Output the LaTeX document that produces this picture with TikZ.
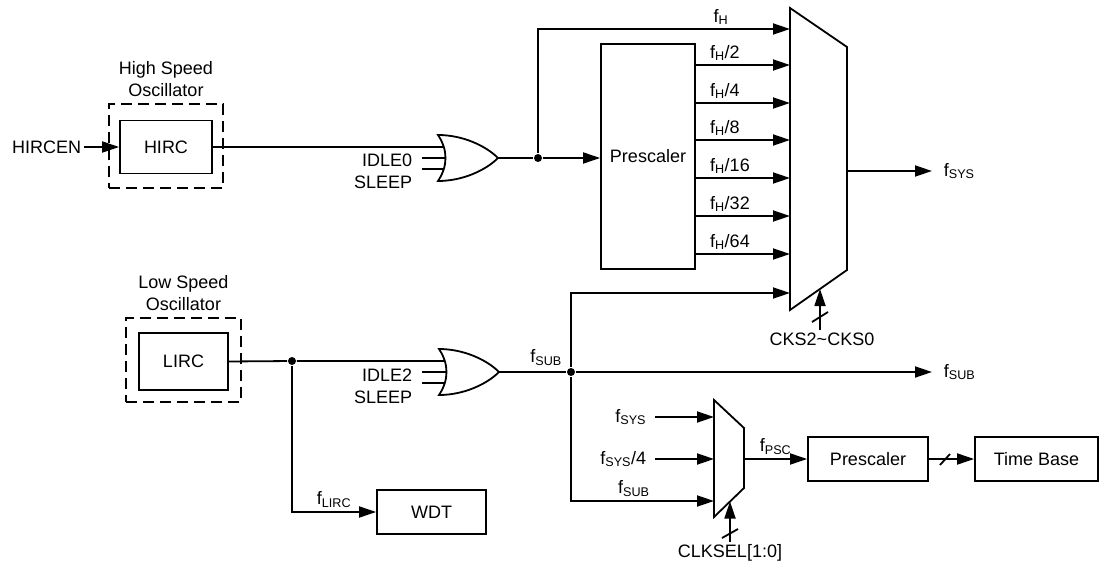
\documentclass[tikz,border=0pt]{standalone}
\usepackage{fontspec}
\setmainfont{Liberation Sans}
\usetikzlibrary{arrows.meta, positioning, calc}

\newcommand{\freq}[1]{f\textsubscript{#1}}

\begin{document}
\begin{tikzpicture}[
  x=1pt, y=-1pt,
  >={Triangle[length=17pt, width=11pt]},
  line width=1.8pt,
  font=\fontsize{18}{22}\selectfont,
  box/.style={draw, inner sep=0pt, align=center},
  osc/.style={draw, dash pattern=on 11pt off 6pt, inner sep=0pt},
  dot/.style={circle, fill, inner sep=0pt, minimum size=8pt},
  sig/.style={inner sep=2pt},
  orgate/.pic={
    \draw (0,-23) .. controls (10,-8) and (10,8) .. (0,23)
          .. controls (25,23) and (48,12) .. (60,0)
          .. controls (48,-12) and (25,-23) .. (0,-23) -- cycle;
    \coordinate (-in1) at (5.5,-11);
    \coordinate (-in2) at (7.5,0);
    \coordinate (-in3) at (5.5,11);
    \coordinate (-out) at (60,0);
  }
]
\useasboundingbox (0,0) rectangle (1101,567);

% High speed oscillator
\node[box, minimum width=92, minimum height=53] (hirc) at (166,147) {HIRC};
\node[osc, minimum width=114, minimum height=84] (hso) at (166,146) {};
\node[align=center, above=2pt of hso] (hsolbl) {High Speed\\Oscillator};
\node[sig, anchor=east] (hircen) at (84,147) {HIRCEN};
\draw[->] (hircen) -- (hirc);

% OR gate for the high speed clock
\pic (or1) at (438,158) {orgate};
\node[sig, anchor=east] (idle0) at (415,160) {IDLE0};
\node[sig, anchor=east] (sleep0) at (415,182) {SLEEP};
\draw (hirc.east) -- (or1-in1);
\draw ([xshift=7pt]idle0.east |- or1-in2) -- (or1-in2);
\draw ([xshift=7pt]sleep0.east |- or1-in3) -- (or1-in3);

% Prescaler and clock select
\node[box, minimum width=94, minimum height=225] (presc1) at (648,156.5) {Prescaler};
\node[dot] (j1) at (538,158) {};
\draw (or1-out) -- (j1);
\draw[->] (j1) -- (presc1.west |- j1);

\coordinate (m1tl) at (790,8);
\coordinate (m1tr) at (847,47);
\coordinate (m1br) at (847,270);
\coordinate (m1bl) at (790,310);
\draw (m1tl) -- (m1tr) -- (m1br) -- (m1bl) -- cycle;
\foreach \y [count=\i] in {29,65,103,140,178,216,254,293}
  \coordinate (m1in\i) at (790,\y);
\coordinate (m1out) at (847,171);

\draw[->] (j1) |- (m1in1) node[pos=0.84, anchor=south west] {\freq{H}};
\foreach \d [count=\i from 2] in {2,4,8,16,32,64}
  \draw[->] (presc1.east |- m1in\i) -- (m1in\i)
    node[pos=0, anchor=south west, xshift=10pt] {\freq{H}/\d};

\node[sig, anchor=west, inner xsep=11pt] (fsys) at (932,171) {\freq{SYS}};
\draw[->] (m1out) -- (fsys.west);

\coordinate (m1sel) at (820,289);
\node[sig, anchor=north] (cks) at (822,330) {CKS2\textasciitilde CKS0};
\draw[->] (cks.north -| m1sel) -- (m1sel);
\draw (812,322) -- (828,312);

% Low speed oscillator
\node[box, minimum width=89, minimum height=57] (lirc) at (183.5,361.5) {LIRC};
\node[osc, minimum width=115, minimum height=84] (lso) at (183.5,360) {};
\node[align=center, above=2pt of lso] (lsolbl) {Low Speed\\Oscillator};

\pic (or2) at (439,372) {orgate};
\node[sig, anchor=east] (idle2) at (415,375) {IDLE2};
\node[sig, anchor=east] (sleep2) at (415,397) {SLEEP};
\node[dot] (j3) at (292,361) {};
\draw (lirc.east) -- (j3) -- (or2-in1);
\draw ([xshift=7pt]idle2.east |- or2-in2) -- (or2-in2);
\draw ([xshift=7pt]sleep2.east |- or2-in3) -- (or2-in3);

% Watchdog timer
\node[box, minimum width=109, minimum height=44] (wdt) at (431.5,512) {WDT};
\draw[->] (j3) |- (wdt.west) node[pos=0.75, above] {\freq{LIRC}};

% Sub clock distribution
\node[dot] (j2) at (571,372) {};
\draw (or2-out) -- (j2) node[pos=1, anchor=south east, yshift=2pt] {\freq{SUB}};
\draw[->] (j2) |- (m1in8);
\node[sig, anchor=west, inner xsep=11pt] (fsub) at (932,372) {\freq{SUB}};
\draw[->] (j2) -- (fsub.west);

% Time base clock select
\coordinate (m2tl) at (714,400);
\coordinate (m2tr) at (744,428);
\coordinate (m2br) at (744,488);
\coordinate (m2bl) at (714,517);
\draw (m2tl) -- (m2tr) -- (m2br) -- (m2bl) -- cycle;
\coordinate (m2in1) at (714,417);
\coordinate (m2in2) at (714,459);
\coordinate (m2in3) at (714,501);
\coordinate (m2out) at (744,459);

\node[sig, anchor=east, inner xsep=8pt] (fsysin) at (655,417) {\freq{SYS}};
\node[sig, anchor=east, inner xsep=8pt] (fsys4) at (655,459) {\freq{SYS}/4};
\draw[->] (fsysin.east) -- (m2in1);
\draw[->] (fsys4.east) -- (m2in2);
\draw[->] (j2) |- (m2in3) node[pos=0.72, above] {\freq{SUB}};

\coordinate (m2sel) at (730,501.5);
\node[sig, anchor=north] (clksel) at (730,542) {CLKSEL[1:0]};
\draw[->] (clksel.north -| m2sel) -- (m2sel);
\draw (722,538) -- (738,529);

\node[box, minimum width=120, minimum height=44] (presc2) at (868,459) {Prescaler};
\node[box, minimum width=123, minimum height=44] (tbase) at (1036.5,459) {Time Base};
\draw[->] (m2out) -- (presc2) node[midway, above] {\freq{PSC}};
\draw[->] (presc2) -- (tbase);
\draw (940,465) -- (950,454);

\end{tikzpicture}
\end{document}
